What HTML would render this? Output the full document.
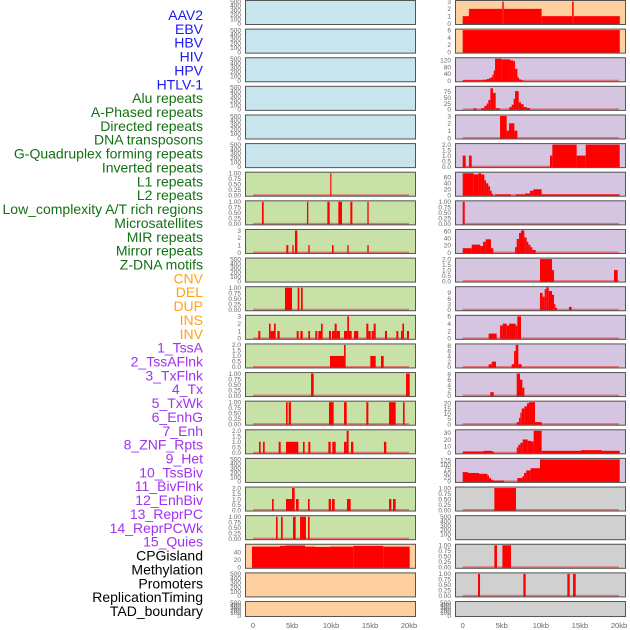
<!DOCTYPE html>
<html><head><meta charset="utf-8"><style>
html,body{margin:0;padding:0;background:#fff;}
svg{display:block;font-family:"Liberation Sans",sans-serif;}
</style></head><body>
<svg id="chart" width="630" height="630" viewBox="0 0 630 630" xmlns="http://www.w3.org/2000/svg"></svg>
<script>
const labels=["AAV2","EBV","HBV","HIV","HPV","HTLV-1","Alu repeats","A-Phased repeats","Directed repeats","DNA transposons","G-Quadruplex forming repeats","Inverted repeats","L1 repeats","L2 repeats","Low_complexity A/T rich regions","Microsatellites","MIR repeats","Mirror repeats","Z-DNA motifs","CNV","DEL","DUP","INS","INV","1_TssA","2_TssAFlnk","3_TxFlnk","4_Tx","5_TxWk","6_EnhG","7_Enh","8_ZNF_Rpts","9_Het","10_TssBiv","11_BivFlnk","12_EnhBiv","13_ReprPC","14_ReprPCWk","15_Quies","CPGisland","Methylation","Promoters","ReplicationTiming","TAD_boundary"];
const labelColors=[];
for(let i=0;i<44;i++){labelColors.push(i<6?"#1a1af0":i<19?"#137013":i<24?"#ffa31a":i<39?"#a032f0":"#000");}
const xTicks=[0,5,10,15,20];
const xTickLabels=["0","5kb","10kb","15kb","20kb"];
const T500=["0","100","200","300","400","500"],T500v=[0,100,200,300,400,500];
const T1=["0.00","0.25","0.50","0.75","1.00"],T1v=[0,0.25,0.5,0.75,1];
const T2=["0.0","0.5","1.0","1.5","2.0"],T2v=[0,0.5,1,1.5,2];
const T3=["0","1","2","3"],T3v=[0,1,2,3];
// per panel: y-axis max, tick values, tick labels, bars [startKb,endKb,value]
const panelYMax=[500,500,500,500,500,500,1,1,3,500,1,3,2,1,1,2,500,2,1,57.5,500,500,
 3,6,129,94,3,2,74,1,62,2,11.8,6,8.3,8.3,21,33,130,1,500,1,1,500];
const panelTickValues=[T500v,T500v,T500v,T500v,T500v,T500v,T1v,T1v,T3v,T500v,T1v,T3v,T2v,T1v,T1v,T2v,T500v,T2v,T1v,[0,20,40],T500v,T500v,
 T3v,[0,2,4,6],[0,40,80,120],[0,25,50,75],T3v,T2v,[0,20,40,60],T1v,[0,20,40,60],T2v,[0,3,6,9],[0,2,4,6],[0,2,4,6,8],[0,2,4,6,8],[0,5,10,15,20],[0,10,20,30],[0,25,50,75,100,125],T1v,T500v,T1v,T1v,T500v];
const panelTickLabels=panelTickValues.map(a=>a.map(v=>{
 if(a===T1v)return v.toFixed(2); if(a===T2v)return v.toFixed(1); return String(v);}));
const panelBars=[[],[],[],[],[],[],
[[9.9,10.05,1]],
[[1.15,1.37,1],[6.92,7.09,1],[9.53,9.83,1],[10.94,11.41,1],[12.48,12.74,1],[14.66,14.83,1]],
[[4.27,4.53,1],[5.04,5.21,1],[5.38,5.68,3],[7.09,7.26,1],[10.13,10.34,1],[12.09,12.26,1],[14.66,14.83,1]],
[],
[[4.1,5.0,1],[5.73,5.94,1],[6.15,6.37,1]],
[[0.68,0.94,1],[2.05,2.26,2],[2.26,2.69,1],[2.69,2.91,2],[3.12,3.42,1],[5.6,5.85,1],[6.07,6.37,1],[7.09,7.31,1],[7.99,8.25,1],[8.38,8.72,1],[8.72,8.93,2],[9.74,10.0,1],[10.13,10.47,1],[10.47,10.73,2],[10.73,11.15,1],[11.67,12.09,1],[12.09,12.31,3],[12.31,12.65,1],[12.95,13.5,1],[14.53,14.79,2],[14.79,15.09,1],[15.21,15.47,1],[15.47,15.73,2],[16.92,17.18,1],[18.38,18.63,1],[18.97,19.15,1],[19.15,19.36,2],[19.74,20.0,1]],
[[9.87,11.67,1],[11.67,11.88,2],[15.04,15.73,1],[16.41,16.75,1]],
[[7.44,7.78,1],[19.62,20.09,1]],
[[4.23,4.44,1],[4.57,4.87,1],[9.74,10.34,1],[11.67,12.01,1],[14.53,14.79,1],[17.44,18.29,1],[19.23,19.44,1]],
[[0.77,0.98,1],[1.28,1.5,1],[3.29,3.55,1],[4.23,5.81,1],[6.41,6.62,1],[7.09,7.35,1],[9.66,9.96,1],[10.17,10.6,1],[11.67,12.01,1],[12.01,12.26,2],[12.56,12.86,1],[16.79,17.09,1]],
[],
[[2.44,2.65,1],[4.23,5.0,1],[5.0,5.34,2],[5.51,5.85,1],[7.05,7.26,1],[9.7,10.0,1],[10.13,10.47,1],[12.05,12.52,1],[17.44,17.74,1],[17.95,18.29,1]],
[[2.95,3.16,1],[3.59,3.8,1],[5.13,5.47,1],[6.03,6.79,1],[7.05,7.26,1]],
[[-0.13,3.46,54],[3.46,4.23,56],[4.23,6.67,57],[6.67,7.95,54],[7.95,9.87,53],[9.87,12.86,54],[12.86,16.71,56],[16.71,20.09,54]],
[],[],
[[0,0.8,1],[0.8,5.07,2],[5.07,5.25,3],[5.25,10.1,2],[10.1,14.0,1],[14.0,14.2,3],[14.2,20.1,1]],
[[0,20.1,6]],
[[0,2.64,3],[2.64,3.07,6],[3.07,3.37,10],[3.37,3.62,15],[3.62,3.8,20],[3.8,3.97,35],[3.97,4.14,60],[4.14,4.99,129],[4.99,6.06,125],[6.06,6.48,120],[6.48,6.7,115],[6.7,7.0,70],[7.0,7.2,20],[7.2,7.46,8],[7.46,7.8,3]],
[[1.36,1.79,4],[2.35,2.77,5],[2.77,3.07,15],[3.07,3.28,25],[3.28,3.54,40],[3.54,3.88,90],[3.88,4.22,70],[4.22,4.73,5],[5.97,6.27,10],[6.27,6.52,20],[6.52,6.7,45],[6.7,7.16,78],[7.16,7.46,30],[7.46,7.8,22],[7.8,8.19,10],[8.19,8.61,6]],
[[4.78,5.63,3],[5.63,5.93,1],[5.93,6.61,2],[6.61,6.99,1]],
[[0,0.38,1],[0.81,1.15,1],[11.17,11.47,1],[11.47,14.58,2],[14.58,15.74,1],[15.74,20.09,2]],
[[0,1.41,74],[1.41,2.01,70],[2.01,2.35,74],[2.35,2.77,70],[2.77,2.99,50],[2.99,3.28,40],[3.28,3.5,30],[3.5,3.71,15],[3.71,3.88,5],[4.14,6.18,3],[6.78,7.97,3],[7.97,8.61,6],[8.61,9.04,15],[9.04,10.1,20],[10.1,20.09,3]],
[[0,0.26,1]],
[[0,1.15,12],[1.15,2.26,22],[2.26,2.6,18],[2.6,2.94,30],[2.94,3.62,37],[3.62,3.92,12],[6.7,6.91,15],[6.91,7.21,38],[7.21,7.46,55],[7.46,7.89,62],[7.89,8.19,42],[8.19,8.4,30],[8.4,8.66,22],[8.66,8.91,15],[8.91,9.34,7]],
[[9.89,11.43,2],[11.43,11.69,1],[19.36,19.83,1]],
[[9.89,10.23,9],[10.23,10.49,7],[10.49,10.7,11],[10.7,11.0,12],[11.0,11.43,10],[11.43,11.69,8],[11.69,11.86,3],[11.86,12.07,1],[13.6,13.94,1.5]],
[[3.32,4.35,1.3],[4.78,5.12,3.5],[5.12,5.63,4],[5.63,5.93,3.5],[5.93,6.78,4],[6.78,6.99,3.5],[6.99,7.46,6]],
[[3.32,3.71,1],[3.71,4.26,2],[6.27,6.57,1],[6.57,6.78,6],[6.78,7.12,8.3],[7.12,7.55,1]],
[[3.54,3.97,1.3],[6.91,7.33,8.3],[7.33,7.63,6],[7.63,7.89,3]],
[[6.91,7.21,2],[7.21,7.38,6],[7.38,7.55,11],[7.55,7.89,15],[7.89,8.23,17],[8.23,8.49,20],[8.49,9.25,21],[9.25,10.1,2]],
[[0,2.64,2],[2.64,3.71,3],[3.71,4.01,2],[6.91,7.12,8],[7.12,7.38,12],[7.38,7.68,15],[7.68,8.31,20],[8.31,8.74,18],[8.74,9.08,17],[9.08,10.1,33],[10.1,15.14,3],[15.14,17.78,4],[17.78,20.09,3]],
[[0,0.68,55],[0.68,2.09,50],[2.09,3.16,45],[3.16,3.37,35],[3.37,3.62,20],[3.62,3.88,10],[3.88,5.29,5],[6.99,7.63,20],[7.63,7.85,30],[7.85,8.14,50],[8.14,8.7,65],[8.7,9.89,78],[9.89,20.09,130]],
[[4.05,6.82,1]],
[],
[[4.05,4.39,1],[5.08,6.18,1]],
[[1.96,2.22,1],[7.76,8.06,1],[13.39,13.69,1],[14.12,14.46,1]],
[]];
const panelFills=[];
for(let i=0;i<44;i++){panelFills.push(i<6?"#c8e4ec":i<19?"#c8e1a6":i<24?"#ffd09f":i<39?"#d5c5e0":"#d0d0d0");}

const NS="http://www.w3.org/2000/svg";
const svg=document.getElementById("chart");
function mk(tag,attrs,parent){const e=document.createElementNS(NS,tag);for(const k in attrs)e.setAttribute(k,attrs[k]);(parent||svg).appendChild(e);return e;}

// row labels
labels.forEach((t,i)=>{
 const e=mk("text",{x:203,y:15+i*13.86+5,"text-anchor":"end","font-size":"14",fill:labelColors[i]});
 e.textContent=t;
 
 
});

const cols=[{x0:245,x1:416,z0:253,z20:409},{x0:455,x1:626,z0:462.7,z20:619}];
for(let p=0;p<44;p++){
 const c=cols[p<22?0:1], r=p%22;
 const top=r*28.62, h=(r===21?16:25), bot=top+h;
 const xs=kb=>c.z0+kb*(c.z20-c.z0)/20;
 const ys=v=>bot-1.5-v/panelYMax[p]*(h-3);
 const g=mk("g",{});
 
 
 mk("rect",{x:c.x0,y:top,width:c.x1-c.x0,height:h,fill:panelFills[p]},g);
 const bars=panelBars[p];
 if(bars.length){
  mk("line",{x1:xs(0),x2:xs(20),y1:ys(0),y2:ys(0),stroke:"#e06060","stroke-width":2,"stroke-opacity":0.8},g);
 }
 bars.forEach(b=>{
  const x=Math.max(xs(b[0]),c.x0+1), x2=Math.min(xs(b[1]),c.x1-1);
  const y=Math.max(ys(b[2]),top+1);
  const rc=mk("rect",{x:x,y:y,width:Math.max(x2-x,1),height:bot-1-y,fill:"#ff0000"},g);
  
  
 });
 mk("rect",{x:c.x0+0.5,y:top+0.5,width:c.x1-c.x0-1,height:h-1,fill:"none",stroke:"#555","stroke-width":1},g);
 panelTickValues[p].forEach((v,k)=>{
  const t=mk("text",{x:c.x0-4,y:ys(v)+2.3,"text-anchor":"end","font-size":"6.5",fill:"#666"},g);
  t.textContent=panelTickLabels[p][k];
  
  
 });
}
// x axes
cols.forEach((c,ci)=>{
 xTicks.forEach((v,k)=>{
  const t=mk("text",{x:c.z0+v*(c.z20-c.z0)/20,y:628,"text-anchor":"middle","font-size":"7.5",fill:"#666"});
  t.textContent=xTickLabels[k];
  
  
 });
});
</script>
</body></html>
